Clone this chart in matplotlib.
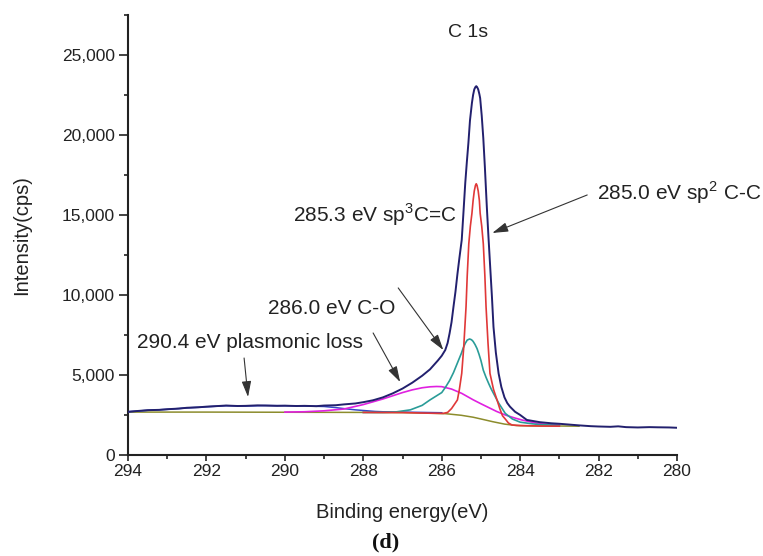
import matplotlib
matplotlib.use("Agg")
import matplotlib.pyplot as plt
from matplotlib.ticker import MultipleLocator, FuncFormatter

plt.rcParams['font.family'] = ['Liberation Sans', 'DejaVu Sans']
plt.rcParams['mathtext.fontset'] = 'custom'
plt.rcParams['mathtext.rm'] = 'Liberation Sans'

# measured envelope (binding energy eV, intensity cps)
env_e = [294.0, 293.7, 293.5, 293.2, 293.0, 292.7, 292.5, 292.2, 292.0, 291.7, 291.5,
         291.2, 291.0, 290.7, 290.5, 290.2, 290.0, 289.7, 289.5, 289.2, 289.0, 288.7,
         288.5, 288.2, 288.0, 287.75, 287.5, 287.25, 287.0, 286.75, 286.5, 286.3,
         286.1, 286.0, 285.91, 285.85, 285.8, 285.75, 285.7, 285.65, 285.6, 285.55,
         285.49, 285.45, 285.4, 285.36, 285.32, 285.28, 285.23, 285.2, 285.17, 285.14,
         285.12, 285.1, 285.07, 285.04, 285.02, 284.98, 284.94, 284.9, 284.85, 284.81,
         284.77, 284.72, 284.68, 284.62, 284.55, 284.48, 284.4, 284.33, 284.26, 284.13,
         284.0, 283.83, 283.5, 283.2, 283.0, 282.7, 282.5, 282.2, 282.0,
         281.7, 281.5, 281.3, 281.0, 280.7, 280.5, 280.2, 280.0]
env_i = [2700, 2760, 2800, 2820, 2860, 2900, 2950, 2980, 3020, 3060, 3090,
         3060, 3070, 3100, 3090, 3070, 3080, 3060, 3070, 3050, 3090, 3110,
         3160, 3220, 3300, 3420, 3600, 3850, 4150, 4520, 4950, 5350,
         5900, 6200, 6560, 7000, 7600, 8300, 9270, 10200, 11300, 12300,
         13440, 15000, 17000, 18300, 19500, 20900, 22000, 22500, 22850, 23000,
         23050, 23000, 22850, 22550, 22300, 21200, 19800, 18000, 15500, 13700,
         12000, 9900, 8000, 6400, 5100, 4250, 3600, 3250, 3020, 2700,
         2500, 2190, 2050, 1980, 1950, 1890, 1850, 1800, 1780,
         1760, 1790, 1740, 1720, 1740, 1730, 1720, 1700]

# sp2 C-C component (red)
sp2_e = [288.0, 287.0, 286.3, 285.96, 285.85, 285.75, 285.68, 285.6, 285.55, 285.49,
         285.44, 285.38, 285.35, 285.31, 285.27, 285.23, 285.2, 285.17, 285.14, 285.12,
         285.1, 285.07, 285.04, 285.02, 284.98, 284.94, 284.9, 284.87, 284.82, 284.77,
         284.68, 284.59, 284.52, 284.45, 284.38, 284.3, 284.21, 284.0, 283.5, 283.0]
sp2_i = [2660, 2650, 2610, 2600, 2660, 2900, 3150, 3440, 4100, 5100,
         6700, 9270, 11200, 13200, 14300, 15100, 15900, 16500, 16850, 16950,
         16850, 16500, 15900, 15100, 14300, 13200, 11200, 9270, 7000, 5100,
         4100, 3440, 2900, 2450, 2250, 2000, 1875, 1840, 1810, 1800]

# sp3 C=C component (teal)
sp3_e = [288.0, 287.5, 287.2, 286.8, 286.5, 286.3, 286.0, 285.9, 285.8, 285.7, 285.6,
         285.5, 285.45, 285.4, 285.35, 285.29, 285.24, 285.2, 285.15, 285.1, 285.05,
         285.0, 284.94, 284.87, 284.8, 284.74, 284.68, 284.55, 284.38, 284.2, 284.0,
         283.7, 283.5, 283.0]
sp3_i = [2660, 2660, 2680, 2820, 3100, 3440, 3900, 4250, 4650, 5150, 5750,
         6350, 6700, 6980, 7180, 7250, 7200, 7100, 6900, 6650, 6300,
         5900, 5300, 4850, 4450, 4130, 3850, 3250, 2600, 2250, 2050,
         1950, 1900, 1850]

# C-O component (magenta)
co_e = [290.0, 289.5, 289.0, 288.5, 288.0, 287.5, 287.0, 286.75, 286.5, 286.3, 286.13,
        286.0, 285.75, 285.49, 285.2, 285.0, 284.85, 284.6, 284.38, 284.15, 283.96,
        283.7, 283.5, 283.0]
co_i = [2680, 2700, 2760, 2870, 3150, 3500, 3900, 4070, 4200, 4260, 4280,
        4270, 4120, 3850, 3450, 3200, 3020, 2720, 2500, 2320, 2190,
        2050, 1950, 1870]

# plasmonic loss component (blue)
pl_e = [294.0, 293.5, 293.0, 292.5, 292.0, 291.5, 291.0, 290.5, 290.0, 289.5, 289.0,
        288.7, 288.5, 288.2, 288.0, 287.7, 287.5, 287.0, 286.5, 286.0]
pl_i = [2700, 2790, 2850, 2940, 3010, 3080, 3060, 3090, 3080, 3060, 3030,
        2960, 2900, 2820, 2780, 2720, 2700, 2680, 2660, 2640]

# background (olive)
bg_e = [294.0, 293.0, 292.0, 291.0, 290.0, 289.0, 288.0, 287.0, 286.3, 285.9, 285.5,
        285.2, 285.0, 284.7, 284.4, 284.1, 283.8, 283.5, 283.0, 282.5]
bg_i = [2680, 2680, 2680, 2675, 2670, 2665, 2660, 2650, 2610, 2580, 2480,
        2360, 2250, 2080, 1930, 1840, 1820, 1810, 1810, 1800]

fig = plt.figure(figsize=(7.63, 5.56), dpi=100)
ax = fig.add_axes([0.1678, 0.1817, 0.7195, 0.7914])

ax.plot(bg_e, bg_i, color='#8c8c2c', lw=1.1, zorder=2)
ax.plot(pl_e, pl_i, color='#3548c8', lw=1.1, zorder=3)
ax.plot(co_e, co_i, color='#e020e0', lw=1.2, zorder=3)
ax.plot(sp3_e, sp3_i, color='#2a9c98', lw=1.2, zorder=3)
ax.plot(sp2_e, sp2_i, color='#e03838', lw=1.2, zorder=3)
ax.plot(env_e, env_i, color='#22206e', lw=1.4, zorder=4)

ax.set_xlim(294, 280)
ax.set_ylim(0, 27500)
ax.xaxis.set_major_locator(MultipleLocator(2))
ax.xaxis.set_minor_locator(MultipleLocator(1))
ax.yaxis.set_major_locator(MultipleLocator(5000))
ax.yaxis.set_minor_locator(MultipleLocator(2500))
ax.yaxis.set_major_formatter(FuncFormatter(lambda v, p: f"{int(v):,}"))

for s in ['top', 'right']:
    ax.spines[s].set_visible(False)
for s in ['left', 'bottom']:
    ax.spines[s].set_linewidth(1.5)
    ax.spines[s].set_color('#222222')

ax.tick_params(axis='both', which='both', direction='out', width=1.2, colors='#222222',
               labelsize=12.5, labelcolor='#222222')
ax.tick_params(axis='y', which='major', length=6.5, pad=3)
ax.tick_params(axis='x', which='major', length=4.5, pad=2)
ax.tick_params(axis='both', which='minor', length=3)

ax.set_xlabel('Binding energy(eV)', fontsize=14.5, labelpad=17, color='#222222')
ax.set_ylabel('Intensity(cps)', fontsize=14.5, labelpad=22, color='#222222')

ax.text(285.33, 26375, 'C 1s', fontsize=14, ha='center', va='center', color='#222222')

arrow = dict(arrowstyle='-|>,head_length=0.6,head_width=0.18', color='#333333',
             lw=0.8, mutation_scale=16, shrinkA=0, shrinkB=0)

ax.text(282.04, 16375, '285.0 eV sp$^2$ C-C', fontsize=15, ha='left', va='center',
        color='#222222')
ax.annotate('', xy=(284.71, 13875), xytext=(282.29, 16250), arrowprops=arrow)

ax.text(289.79, 15000, '285.3 eV sp$^3$C=C', fontsize=15, ha='left', va='center',
        color='#222222')
ax.annotate('', xy=(285.96, 6560), xytext=(287.11, 10440), arrowprops=arrow)

ax.text(290.43, 9125, '286.0 eV C-O', fontsize=15, ha='left', va='center',
        color='#222222')
ax.annotate('', xy=(287.06, 4560), xytext=(287.75, 7625), arrowprops=arrow)

ax.text(293.77, 7000, '290.4 eV plasmonic loss', fontsize=15, ha='left', va='center',
        color='#222222')
ax.annotate('', xy=(290.94, 3625), xytext=(291.04, 6060), arrowprops=arrow)

fig.text(386 / 763, 1 - 542 / 556, '(d)', fontfamily='Liberation Serif',
         fontweight='bold', fontsize=16, ha='center', va='center', color='#111111')

fig.savefig('out.png', dpi=100)
